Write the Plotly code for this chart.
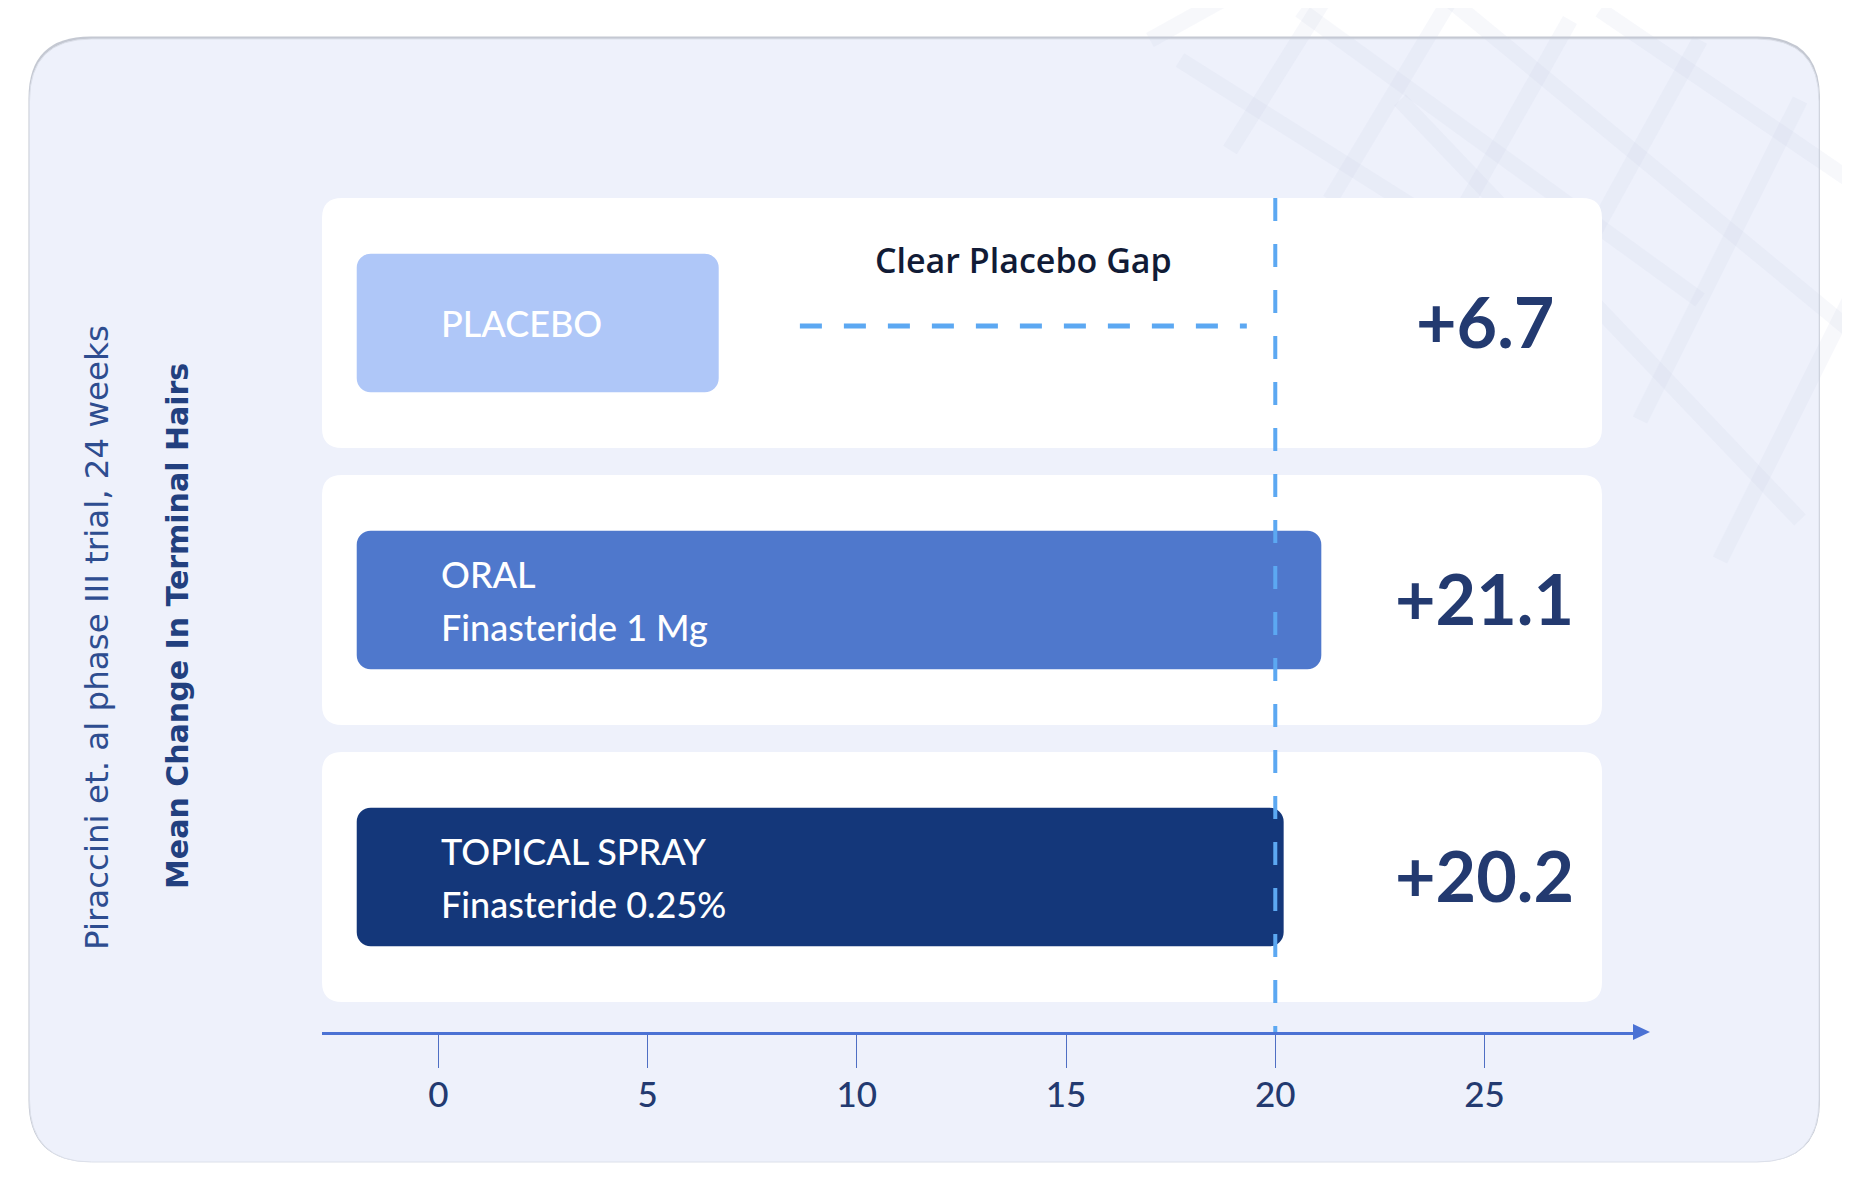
import plotly.graph_objects as go

# ---------------- data ----------------
categories = ["PLACEBO", "ORAL", "TOPICAL SPRAY"]
bar_line1 = ["PLACEBO", "ORAL", "TOPICAL SPRAY"]
bar_line2 = ["", "Finasteride 1 Mg", "Finasteride 0.25%"]
values = [6.7, 21.1, 20.2]
value_labels = ["+6.7", "+21.1", "+20.2"]
bar_colors = ["#AFC7F8", "#4F78CC", "#14377A"]
tick_vals = [0, 5, 10, 15, 20, 25]
tick_text = ["0", "5", "10", "15", "20", "25"]
reference_value = 20
gap_label = "Clear Placebo Gap"
y_title_1 = "Piraccini et. al phase III trial, 24 weeks"
y_title_2 = "Mean Change In Terminal Hairs"

# ---------------- layout constants ----------------
W, H = 1850, 1200
OFF = 8  # page body margin
BAR_START = -1.95
ROW_CENTER0, ROW_PITCH, ROW_H = 323, 277, 250
ROW_X0, ROW_X1 = 322, 1602
AXIS_Y = 1032
X_RANGE = [-2.78, 28.62]
NAVY = "#233A70"
DASH_BLUE = "#5CA8F2"
AXIS_BLUE = "#4B72D4"
FONT_MAIN = "Lato"
FONT_SIDE = "DejaVu Sans"


def px(x):
    return (x - OFF) / W


def py(y):
    return 1 - (y - OFF) / H


X_DOMAIN = [px(322), px(1636)]
Y_RANGE = [(AXIS_Y - ROW_CENTER0) / ROW_PITCH, (OFF - ROW_CENTER0) / ROW_PITCH]


def rrect(x0, y0, x1, y1, r):
    pts = [
        ("M", [(x0 + r, y0)]),
        ("L", [(x1 - r, y0)]),
        ("Q", [(x1, y0), (x1, y0 + r)]),
        ("L", [(x1, y1 - r)]),
        ("Q", [(x1, y1), (x1 - r, y1)]),
        ("L", [(x0 + r, y1)]),
        ("Q", [(x0, y1), (x0, y1 - r)]),
        ("L", [(x0, y0 + r)]),
        ("Q", [(x0, y0), (x0 + r, y0)]),
    ]
    s = ""
    for cmd, ps in pts:
        s += cmd + " " + " ".join(f"{px(a):.5f},{py(b):.5f}" for a, b in ps) + " "
    return s + "Z"


fig = go.Figure()

fig.add_trace(go.Bar(
    y=categories, x=[v - BAR_START for v in values], base=[BAR_START] * len(values),
    orientation="h", marker=dict(color=bar_colors, line=dict(width=0)),
    width=0.5, hoverinfo="skip", showlegend=False,
))

shapes = []
# card shadow + card
shapes.append(dict(type="path", xref="paper", yref="paper", layer="below",
                   path=rrect(28.5, 36.5, 1820, 1162, 62),
                   fillcolor="#C4C8D2", line=dict(width=0)))
shapes.append(dict(type="path", xref="paper", yref="paper", layer="below",
                   path=rrect(29.5, 39, 1819, 1162, 62),
                   fillcolor="#EEF1FB", line=dict(color="#DCE0EA", width=1)))

# faint decorative lattice in the top-right
pattern = [
    (1150, 40, 1240, -10), (1230, 150, 1330, -10), (1330, 200, 1450, 0),
    (1440, 250, 1570, 20), (1540, 330, 1700, 40), (1640, 420, 1800, 100),
    (1720, 560, 1850, 300), (1180, 60, 1450, 230), (1300, 10, 1700, 300),
    (1450, 0, 1850, 330), (1600, 10, 1850, 180), (1400, 100, 1800, 520),
]
for (a, b, c, d) in pattern:
    shapes.append(dict(type="line", xref="paper", yref="paper", layer="below",
                       x0=px(a), y0=py(b), x1=px(c), y1=py(d),
                       line=dict(color="rgba(200,208,228,0.14)", width=16)))

# white rows
for i in range(len(categories)):
    c = ROW_CENTER0 + i * ROW_PITCH
    shapes.append(dict(type="path", xref="paper", yref="paper", layer="below",
                       path=rrect(ROW_X0, c - ROW_H / 2, ROW_X1, c + ROW_H / 2, 20),
                       fillcolor="#FFFFFF", line=dict(width=0)))

# vertical dashed reference line
shapes.append(dict(type="line", xref="x", yref="paper", layer="above",
                   x0=reference_value, x1=reference_value, y0=py(198), y1=py(AXIS_Y),
                   line=dict(color=DASH_BLUE, width=4, dash="23px,23px")))
# horizontal dashed gap line
shapes.append(dict(type="line", xref="x", yref="paper", layer="above",
                   x0=8.64, x1=19.32, y0=py(326), y1=py(326),
                   line=dict(color=DASH_BLUE, width=5, dash="22px,22px")))
# axis arrow head
shapes.append(dict(type="path", xref="paper", yref="paper", layer="above",
                   path=f"M {px(1633)},{py(AXIS_Y-8)} L {px(1650)},{py(AXIS_Y)} L {px(1633)},{py(AXIS_Y+8)} Z",
                   fillcolor=AXIS_BLUE, line=dict(width=0)))

annotations = []
TXT_X = 0.02
for i, cat in enumerate(categories):
    bfont = dict(family=FONT_MAIN, size=36, color="white", weight=500)
    if bar_line2[i]:
        annotations.append(dict(x=TXT_X, y=cat, xref="x", yref="y", text=bar_line1[i],
                                showarrow=False, xanchor="left", yanchor="middle", yshift=26,
                                font=bfont))
        annotations.append(dict(x=TXT_X, y=cat, xref="x", yref="y", text=bar_line2[i],
                                showarrow=False, xanchor="left", yanchor="middle", yshift=-27,
                                font=bfont))
    else:
        annotations.append(dict(x=TXT_X, y=cat, xref="x", yref="y", text=bar_line1[i],
                                showarrow=False, xanchor="left", yanchor="middle",
                                font=bfont))
    annotations.append(dict(x=25, y=cat, xref="x", yref="y", text=value_labels[i],
                            showarrow=False, xanchor="center", yanchor="middle", yshift=2,
                            font=dict(family=FONT_MAIN, size=70, color=NAVY, weight=700)))

annotations.append(dict(x=13.98, y=categories[0], xref="x", yref="y", text=gap_label,
                        showarrow=False, xanchor="center", yanchor="middle", yshift=63,
                        font=dict(family="Open Sans", size=34, color="#111B36", weight=600)))
annotations.append(dict(x=px(97), y=py(638), xref="paper", yref="paper", text=y_title_1,
                        showarrow=False, textangle=-90, xanchor="center", yanchor="middle",
                        font=dict(family=FONT_SIDE, size=32.5, color="#2E4D90")))
annotations.append(dict(x=px(177), y=py(626), xref="paper", yref="paper", text=y_title_2,
                        showarrow=False, textangle=-90, xanchor="center", yanchor="middle",
                        font=dict(family=FONT_SIDE, size=30, color="#22407F", weight=700)))

fig.update_layout(
    width=W, height=H,
    margin=dict(l=0, r=0, t=0, b=0),
    paper_bgcolor="white", plot_bgcolor="rgba(0,0,0,0)",
    barcornerradius=14,
    shapes=shapes, annotations=annotations,
    xaxis=dict(domain=X_DOMAIN, range=X_RANGE, showgrid=False, zeroline=False,
               showline=True, linecolor=AXIS_BLUE, linewidth=2.5,
               ticks="outside", ticklen=33, tickwidth=1.2, tickcolor="#4F6FC4",
               tickvals=tick_vals, ticktext=tick_text, ticklabelstandoff=-3,
               tickfont=dict(family=FONT_MAIN, size=35, color=NAVY, weight=500),
               fixedrange=True),
    yaxis=dict(domain=[py(AXIS_Y), 1], range=Y_RANGE, type="category",
               categoryorder="array", categoryarray=categories,
               showgrid=False, zeroline=False, showline=False, showticklabels=False,
               ticks="", fixedrange=True),
)

fig.write_html("out.html")
